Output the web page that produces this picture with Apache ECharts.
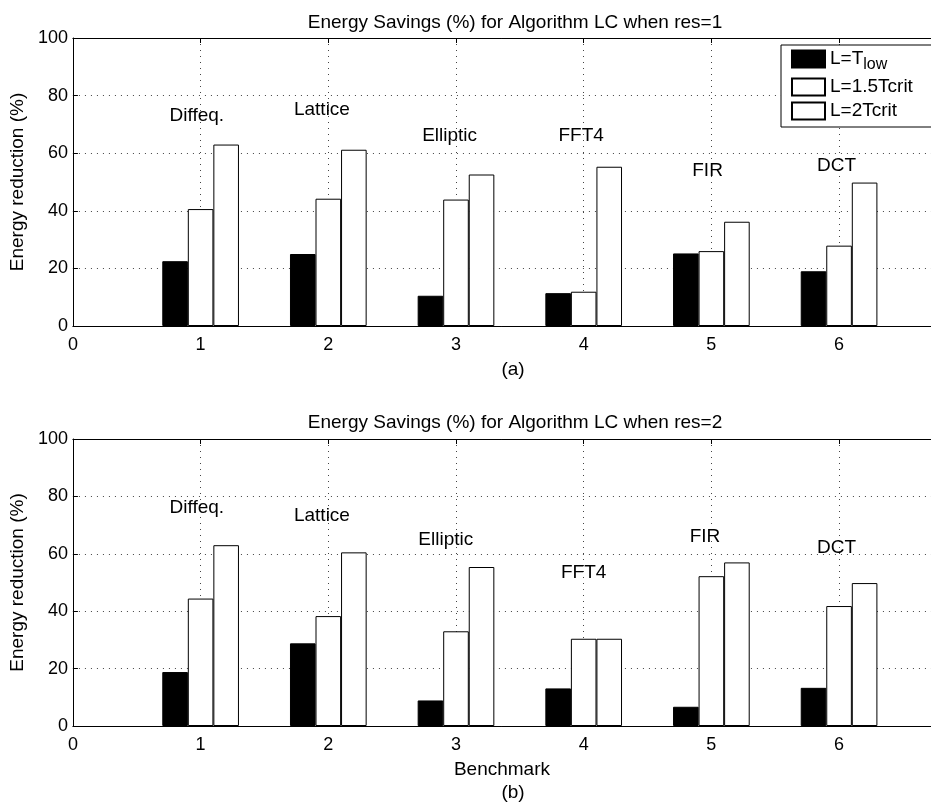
<!DOCTYPE html>
<html>
<head>
<meta charset="utf-8">
<script src="https://cdn.jsdelivr.net/npm/echarts@6/dist/echarts.min.js"></script>
<style>
  html, body { margin: 0; padding: 0; background: #fff; }
  #main { width: 931px; height: 802px; }
</style>
</head>
<body>
<div id="main"></div>
<script>
// benchmark positions and x tick labels
const groupX = [1, 2, 3, 4, 5, 6];
const xTicks = [0, 1, 2, 3, 4, 5, 6];
const yTicks = [0, 20, 40, 60, 80, 100];
const seriesNames = ["L=Tlow", "L=1.5Tcrit", "L=2Tcrit"];

// (a) res=1
const lowRes1 = [22.5, 25, 10.5, 11.4, 25.2, 19];
const crit15Res1 = [40.6, 44.2, 43.9, 11.9, 26, 27.9];
const crit2Res1 = [63, 61.2, 52.6, 55.3, 36.2, 49.8];
// (b) res=2
const lowRes2 = [18.8, 28.8, 8.9, 13.1, 6.7, 13.3];
const crit15Res2 = [44.4, 38.3, 33, 30.4, 52.2, 41.8];
const crit2Res2 = [63, 60.5, 55.4, 30.4, 57, 49.8];

// benchmark names written over the bars
const benchNames = ["Diffeq.", "Lattice", "Elliptic", "FFT4", "FIR", "DCT"];
const nameXRes1 = [0.97, 1.95, 2.95, 3.98, 4.97, 5.98];
const nameYRes1 = [73, 75, 66, 66, 54, 55.5];
const nameXRes2 = [0.97, 1.95, 2.92, 4.0, 4.95, 5.98];
const nameYRes2 = [76, 73.4, 65, 53.3, 66, 62];

const offsets = [-0.2, 0, 0.2];
const FONT = "Liberation Sans";
const XMAX = 6.72;

const chart = echarts.init(document.getElementById("main"));

function xAx(gi) {
  return [
    {
      gridIndex: gi, type: "value", min: 0, max: XMAX, interval: 1,
      axisLine: { show: true, onZero: false, lineStyle: { color: "#000", width: 1 } },
      axisTick: { show: true, inside: true, length: 5, lineStyle: { color: "#000" } },
      axisLabel: {
        color: "#000", fontSize: 18, fontFamily: FONT, margin: 10, showMaxLabel: false,
        formatter: (v) => (xTicks.indexOf(v) >= 0 ? String(v) : "")
      },
      splitLine: { show: true, lineStyle: { color: "#444", type: [1, 5], width: 1 } },
      name: gi === 1 ? "Benchmark" : "",
      nameLocation: "middle", nameGap: 34,
      nameTextStyle: { color: "#000", fontSize: 19, fontFamily: FONT }
    },
    {
      gridIndex: gi, type: "value", min: 0, max: XMAX, interval: 1, position: "top",
      axisLine: { show: true, onZero: false, lineStyle: { color: "#000", width: 1 } },
      axisTick: { show: true, inside: true, length: 5, lineStyle: { color: "#000" } },
      axisLabel: { show: false },
      splitLine: { show: false }
    }
  ];
}

function yAx(gi) {
  return {
    gridIndex: gi, type: "value", min: 0, max: 100, interval: 20,
    axisLine: { show: true, lineStyle: { color: "#000", width: 1 } },
    axisTick: { show: true, inside: true, length: 5, lineStyle: { color: "#000" } },
    axisLabel: {
      color: "#000", fontSize: 18, fontFamily: FONT, margin: 5,
      formatter: (v) => (yTicks.indexOf(v) >= 0 ? String(v) : "")
    },
    splitLine: { show: true, lineStyle: { color: "#444", type: [1, 5], width: 1 } },
    name: "Energy reduction (%)",
    nameLocation: "middle", nameGap: 44,
    nameTextStyle: { color: "#000", fontSize: 19, fontFamily: FONT }
  };
}

function bars(gi, sets) {
  return sets.map((vals, k) => ({
    name: seriesNames[k],
    type: "bar",
    xAxisIndex: gi * 2, yAxisIndex: gi,
    barWidth: 25.6, barGap: "-100%",
    itemStyle: { color: k === 0 ? "#000" : "#fff", borderColor: "#000", borderWidth: 1 },
    data: groupX.map((x, i) => [x + offsets[k], vals[i]])
  }));
}

function names(gi, xs, ys) {
  return {
    type: "scatter", xAxisIndex: gi * 2, yAxisIndex: gi,
    symbolSize: 0, silent: true,
    itemStyle: { opacity: 1 },
    label: {
      show: true, position: "inside", color: "#000", fontSize: 19, fontFamily: FONT,
      formatter: (p) => p.name
    },
    data: benchNames.map((n, i) => ({ name: n, value: [xs[i], ys[i]] }))
  };
}

const titleStyle = { fontSize: 19, fontWeight: "normal", color: "#000", fontFamily: FONT };

const option = {
  animation: false,
  backgroundColor: "#fff",
  textStyle: { fontFamily: FONT },
  title: [
    { text: "Energy Savings (%) for Algorithm LC when res=1", left: 510, top: 8, textAlign: "center", textStyle: titleStyle },
    { text: "(a)", left: 508, top: 355, textAlign: "center", textStyle: titleStyle },
    { text: "Energy Savings (%) for Algorithm LC when res=2", left: 510, top: 408, textAlign: "center", textStyle: titleStyle },
    { text: "(b)", left: 508, top: 778, textAlign: "center", textStyle: titleStyle }
  ],
  legend: {
    orient: "vertical", left: 781, top: 45,
    padding: [4, 40, 6, 10],
    itemWidth: 33, itemHeight: 17, itemGap: 4,
    icon: "rect",
    borderColor: "#000", borderWidth: 1, backgroundColor: "#fff",
    selectedMode: false,
    data: seriesNames,
    formatter: (n) => (n === "L=Tlow" ? "L=T{sub|low}" : n),
    textStyle: {
      fontSize: 19, lineHeight: 20, color: "#000", fontFamily: FONT,
      rich: { sub: { fontSize: 16, color: "#000", fontFamily: FONT, padding: [12, 0, 0, 0] } }
    }
  },
  grid: [
    { left: 71.5, top: 38, width: 859.5, height: 288, show: false },
    { left: 71.5, top: 439, width: 859.5, height: 287, show: false }
  ],
  xAxis: xAx(0).concat(xAx(1)),
  yAxis: [yAx(0), yAx(1)],
  series: [
    ...bars(0, [lowRes1, crit15Res1, crit2Res1]),
    ...bars(1, [lowRes2, crit15Res2, crit2Res2]),
    names(0, nameXRes1, nameYRes1),
    names(1, nameXRes2, nameYRes2)
  ]
};

chart.setOption(option);
</script>
</body>
</html>
